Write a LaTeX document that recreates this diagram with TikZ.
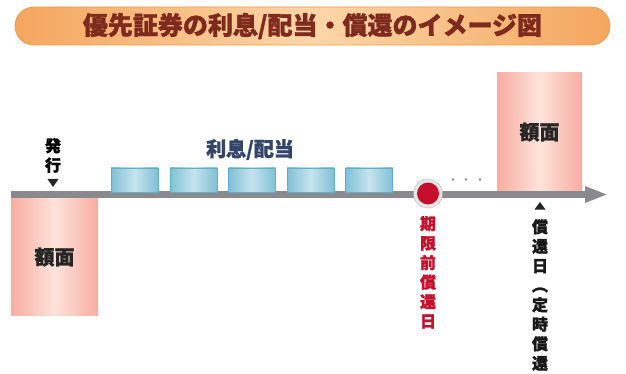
\documentclass[tikz,border=0pt]{standalone}
\usepackage{fontspec}
\newfontfamily\jp{Noto Sans CJK JP}
\newfontfamily\jpheavy{Noto Sans CJK JP}[BoldFeatures={FakeBold=1.3}]
\usetikzlibrary{arrows.meta}
\definecolor{oraE}{HTML}{F4A65E}
\definecolor{oraL}{HTML}{FCD6A8}
\definecolor{oraD}{HTML}{EE9A50}
\definecolor{titleC}{HTML}{7E2A1E}
\definecolor{pinkE}{HTML}{F8ADA2}
\definecolor{pinkL}{HTML}{FDE3DA}
\definecolor{blueE}{HTML}{7FC0D6}
\definecolor{blueL}{HTML}{C6E4EE}
\definecolor{blueD}{HTML}{62AECA}
\definecolor{barC}{HTML}{8A8A8E}
\definecolor{redC}{HTML}{C4102C}
\definecolor{slateC}{HTML}{34456A}
\tikzset{
  banner/.style={rounded corners=19pt, left color=oraE, right color=oraE, middle color=oraL,
    draw=oraD, line width=0.8pt, minimum width=595pt, minimum height=38pt, inner sep=0pt,
    text=titleC, font=\jpheavy\bfseries\fontsize{25}{25}\selectfont},
  facebox/.style={left color=pinkE, right color=pinkE, middle color=pinkL, draw=none,
    inner sep=0pt, text=black!85, font=\jpheavy\bfseries\fontsize{20}{20}\selectfont},
  paybox/.style={left color=blueE, right color=blueE, middle color=blueL, draw=blueD,
    line width=0.4pt, minimum width=47pt, minimum height=24pt, inner sep=0pt},
  vlabel/.style={align=center, inner sep=0pt, font=\jpheavy\bfseries\fontsize{16}{19.5}\selectfont},
  bar/.style={draw=barC, line width=7pt, -{Triangle[length=23pt,width=15pt]}},
  marker/.style={fill=black!85}
}
\begin{document}
\begin{tikzpicture}[x=1pt,y=-1pt]
\useasboundingbox (0,0) rectangle (626,374);
\clip (0,0) rectangle (626,374);
% title banner
\node[banner] (title) at (312.5,26) {優先証券の利息/配当・償還のイメージ図};
% boxes
\node[facebox, minimum width=87pt, minimum height=116pt] (face1) at (54.5,257) {額面};
\node[facebox, minimum width=85pt, minimum height=118pt] (face2) at (539.5,132) {額面};
% timeline
\coordinate (tstart) at (11,194.5);
\coordinate (tend) at (608,194.5);
\draw[bar] (tstart) -- (tend);
% interest boxes
\foreach \i/\x in {1/134.5,2/193.5,3/252,4/310.5,5/369}{
  \node[paybox] (pay\i) at (\x,180) {};
}
\node[font=\jpheavy\bfseries\fontsize{20}{20}\selectfont, text=slateC, inner sep=0pt] (interest) at (250,149.5) {利息/配当};
% issue label
\node[vlabel, text=black, anchor=south] (issue) at (53,173) {発\\行};
\coordinate (issuetri) at (53,187);
\fill[marker] (issuetri) -- ++(-5.5,-8) -- ++(11,0) -- cycle;
% early redemption dot
\node[circle, fill=black!10, draw=black!30, densely dotted, line width=0.8pt, minimum size=29pt, inner sep=0pt] (ring) at (428,193.5) {};
\node[circle, fill=redC, minimum size=22pt, inner sep=0pt] (dot) at (ring) {};
\node[vlabel, text=redC, anchor=north] (early) at (428,216) {期\\限\\前\\償\\還\\日};
% ellipsis dots
\node[inner sep=0pt] (ell) at (466,179.5) {};
\foreach \dx in {-13,0,14}{ \fill[black!45] ([xshift=\dx pt]ell) circle (1.3pt); }
% redemption label
\coordinate (redtri) at (540,202);
\fill[marker] (redtri) -- ++(-5.5,7.5) -- ++(11,0) -- cycle;
\node[vlabel, text=black!90, anchor=north] (redeem) at (540,219) {償\\還\\日\\︵\\定\\時\\償\\還\\︶};
\end{tikzpicture}
\end{document}
